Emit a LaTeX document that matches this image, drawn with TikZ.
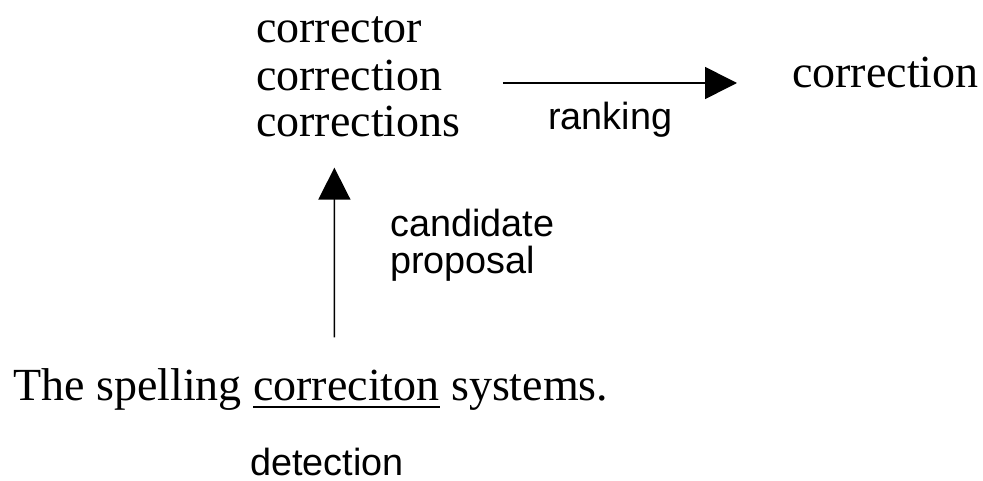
\documentclass[tikz,border=0pt]{standalone}
\usepackage{fontspec}
\setmainfont{Liberation Serif}
\setsansfont{Liberation Sans}
\usetikzlibrary{arrows.meta}

\begin{document}
\begin{tikzpicture}[x=1pt,y=-1pt,
  word/.style={inner sep=0pt,anchor=base west,font=\fontsize{46}{47}\selectfont},
  lbl/.style={inner sep=0pt,anchor=base west,font=\sffamily\fontsize{37.8}{37}\selectfont},
  arr/.style={line width=1.6pt,-{Triangle[length=32pt,width=32pt]}}]
  \useasboundingbox (0,0) rectangle (983,481);

  % candidate list
  \node[word] (c1) at (256,43)  {corrector};
  \node[word] (c2) at (256,91)  {correction};
  \node[word] (c3) at (256,137) {corrections};

  % chosen correction
  \node[word] (r) at (792,88) {correction};

  % input sentence with the misspelt word underlined
  \node[word] (s1) at (13,400)  {The spelling};
  \node[word] (s2) at (253,400) {correciton};
  \node[word] (s3) at (451,400) {systems.};
  \draw[line width=1.5pt] ([yshift=-7pt]s2.base west) -- ([yshift=-7pt]s2.base east);

  % step labels
  \node[lbl] (rank) at (548,130) {ranking};
  \node[lbl] (cand) at (390,237) {candidate};
  \node[lbl] (prop) at (390,274) {proposal};
  \node[lbl] (det)  at (250,475) {detection};

  % arrows
  \draw[arr] ([shift={(-12pt,32pt)}]s2.north) -- ([shift={(-24pt,-30pt)}]c3.south);
  \draw[arr] ([shift={(60pt,8pt)}]c2.base east) -- ([shift={(-55pt,5pt)}]r.base west);
\end{tikzpicture}
\end{document}
